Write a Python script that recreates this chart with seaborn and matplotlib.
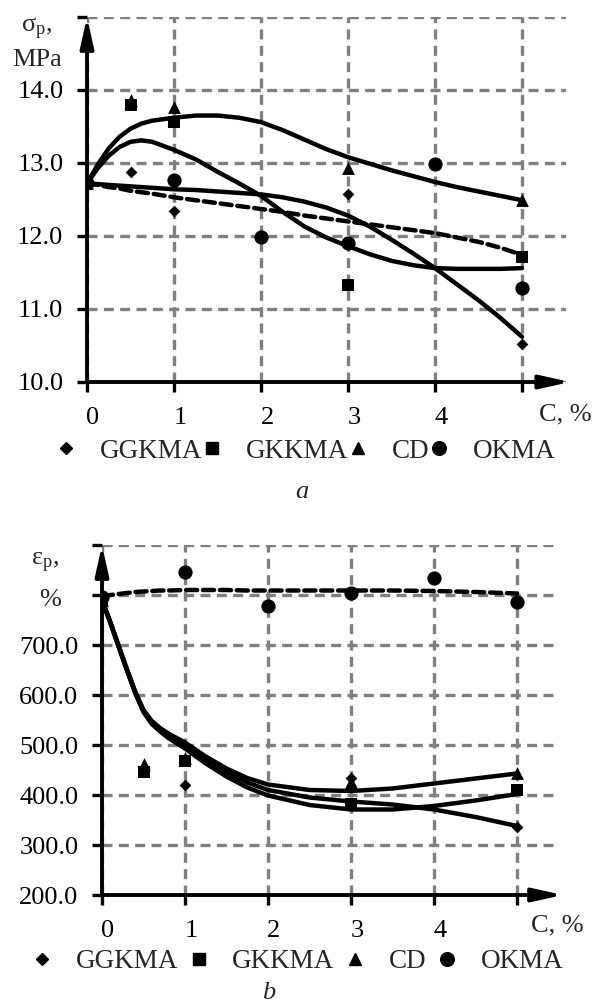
import numpy as np
import pandas as pd
import matplotlib
matplotlib.use("Agg")
import matplotlib.pyplot as plt
import matplotlib.transforms as mtransforms
from matplotlib.lines import Line2D
import seaborn as sns

sns.set_style("white")
plt.rcParams["font.family"] = ["Liberation Serif", "DejaVu Serif"]
plt.rcParams["mathtext.fontset"] = "custom"
plt.rcParams["mathtext.rm"] = "Liberation Serif"
plt.rcParams["mathtext.it"] = "Liberation Serif:italic"

series = ["GGKMA", "GKKMA", "CD", "OKMA"]
markers = {"GGKMA": "D", "GKKMA": "s", "CD": "^", "OKMA": "o"}
msize = {"GGKMA": 36, "GKKMA": 75, "CD": 85, "OKMA": 105}

# ---------- chart a: tensile strength sigma_p, MPa ----------
a_pts_x = {
    "GGKMA": [0, 0.5, 1, 3, 5],
    "GKKMA": [0, 0.5, 1, 3, 5],
    "CD":    [0, 0.5, 1, 3, 5],
    "OKMA":  [0, 1, 2, 3, 4, 5],
}
a_pts_y = {
    "GGKMA": [12.72, 12.87, 12.34, 12.57, 10.52],
    "GKKMA": [12.72, 13.80, 13.56, 11.33, 11.71],
    "CD":    [12.72, 13.86, 13.77, 12.93, 12.49],
    "OKMA":  [12.72, 12.77, 11.98, 11.90, 12.99, 11.29],
}
a_fit_x = [0, 0.125, 0.25, 0.375, 0.5, 0.625, 0.75, 1, 1.25, 1.5, 1.75, 2,
           2.25, 2.5, 2.75, 3, 3.25, 3.5, 3.75, 4, 4.25, 4.5, 4.75, 5]
a_fit_y = {
    "GGKMA": [12.72, 12.71, 12.70, 12.69, 12.68, 12.67, 12.66, 12.64, 12.63, 12.61, 12.59, 12.57,
              12.53, 12.47, 12.39, 12.28, 12.13, 11.95, 11.76, 11.56, 11.34, 11.12, 10.88, 10.62],
    "GKKMA": [12.72, 12.93, 13.10, 13.22, 13.29, 13.31, 13.29, 13.18, 13.05, 12.88, 12.72, 12.55,
              12.33, 12.13, 11.98, 11.86, 11.75, 11.66, 11.60, 11.56, 11.55, 11.55, 11.55, 11.56],
    "CD":    [12.72, 12.98, 13.20, 13.36, 13.47, 13.54, 13.58, 13.62, 13.65, 13.65, 13.62, 13.56,
              13.45, 13.32, 13.19, 13.08, 12.99, 12.90, 12.82, 12.74, 12.67, 12.61, 12.55, 12.49],
    "OKMA":  [12.72, 12.70, 12.67, 12.65, 12.62, 12.60, 12.58, 12.53, 12.49, 12.45, 12.41, 12.37,
              12.33, 12.28, 12.24, 12.20, 12.16, 12.12, 12.08, 12.04, 11.98, 11.92, 11.84, 11.74],
}
a_yticks = [10, 11, 12, 13, 14, 15]
a_yticklabels = ["10.0", "11.0", "12.0", "13.0", "14.0", ""]

# ---------- chart b: elongation eps_p, % ----------
b_pts_x = {
    "GGKMA": [0, 1, 3, 5],
    "GKKMA": [0, 0.5, 1, 3, 5],
    "CD":    [0, 0.5, 1, 3, 5],
    "OKMA":  [0, 1, 2, 3, 4, 5],
}
b_pts_y = {
    "GGKMA": [790, 420, 434, 337],
    "GKKMA": [790, 446, 468, 382, 410],
    "CD":    [790, 463, 474, 426, 444],
    "OKMA":  [797, 846, 778, 805, 834, 786],
}
b_fit_x = [0, 0.1, 0.2, 0.3, 0.4, 0.5, 0.6, 0.7, 0.8, 1, 1.25, 1.5, 1.75, 2, 2.5, 3, 3.5, 4, 4.5, 5]
b_fit_y = {
    "GGKMA": [790, 745, 697, 650, 605, 568, 545, 530, 518, 499, 472, 446, 425, 410, 395, 387, 381, 371, 356, 338],
    "GKKMA": [790, 745, 697, 650, 604, 566, 542, 527, 514, 493, 463, 437, 415, 399, 380, 371, 371, 378, 389, 402],
    "CD":    [790, 746, 699, 652, 607, 570, 548, 534, 523, 505, 477, 453, 434, 421, 410, 408, 413, 423, 433, 443],
    "OKMA":  [797, 800, 802, 804, 806, 807, 808, 809, 809, 810, 810, 810, 809, 809, 809, 809, 809, 808, 806, 803],
}
b_yticks = [200, 300, 400, 500, 600, 700, 800, 900]
b_yticklabels = ["200.0", "300.0", "400.0", "500.0", "600.0", "700.0", "", ""]

x_ticks = [0, 1, 2, 3, 4, 5]
x_ticklabels = ["0", "1", "2", "3", "4", ""]

FS = 19
W, H = 594, 1006
fig = plt.figure(figsize=(W / 100, H / 100), dpi=100)
ax1 = fig.add_axes([87 / W, (H - 382) / H, 478.5 / W, 365 / H])
ax2 = fig.add_axes([102 / W, (H - 895) / H, 456.5 / W, 350 / H])


def draw(ax, pts_x, pts_y, fit_x, fit_y):
    for s in series:
        df = pd.DataFrame({"x": fit_x, "y": fit_y[s]})
        sns.lineplot(data=df, x="x", y="y", ax=ax, color="black", linewidth=3.2,
                     sort=False, estimator=None,
                     linestyle=(0, (2.5, 1.3)) if s == "OKMA" else "-", zorder=3)
    for s in series:
        df = pd.DataFrame({"x": pts_x[s], "y": pts_y[s]})
        sns.scatterplot(data=df, x="x", y="y", ax=ax, color="black",
                        marker=markers[s], s=msize[s], linewidth=0, zorder=4)
    for ln in ax.lines:
        ln.set_linewidth(3.2)
        ln.set_solid_capstyle("round")
        ln.set_solid_joinstyle("round")
        ln.set_dash_capstyle("round")


def style(ax, ylim, yticks, yticklabels, ylab1, ylab2, yl_x1, yl_x2, yl_y1, yl_y2, c_y):
    ax.set_xlim(0, 5.5)
    ax.set_ylim(*ylim)
    ax.set_xticks(x_ticks)
    ax.set_xticklabels(x_ticklabels)
    ax.set_yticks(yticks)
    ax.set_yticklabels(yticklabels)
    ax.set_xlabel("")
    ax.set_ylabel("")
    for sp in ax.spines.values():
        sp.set_visible(False)
    ax.set_axisbelow(True)
    ax.grid(True, color="#808080", lw=2.4, linestyle=(0, (3.0, 1.9)))
    ax.tick_params(axis="both", direction="out", length=7, width=2.4,
                   color="black", labelsize=FS, labelcolor="black")
    ax.tick_params(axis="x", pad=11, bottom=True)
    ax.tick_params(axis="y", pad=10, left=True)
    off = mtransforms.ScaledTranslation(0.06, 0, fig.dpi_scale_trans)
    for lab in ax.get_xticklabels():
        lab.set_transform(lab.get_transform() + off)
    arrow = dict(arrowstyle="-|>,head_length=1.8,head_width=0.4", lw=2.8,
                 color="black", shrinkA=0, shrinkB=0, mutation_scale=10)
    ax.annotate("", xy=(0, 1.0), xytext=(0, 0), xycoords="axes fraction",
                arrowprops=arrow, annotation_clip=False, zorder=5)
    ax.annotate("", xy=(1.01, 0), xytext=(0, 0), xycoords="axes fraction",
                arrowprops=arrow, annotation_clip=False, zorder=5)
    ax.text(yl_x1, yl_y1, ylab1, transform=ax.transAxes, ha="right", va="center", fontsize=FS)
    ax.text(yl_x2, yl_y2, ylab2, transform=ax.transAxes, ha="right", va="center", fontsize=FS)
    ax.text(1.054, c_y, "C, %", transform=ax.transAxes, ha="right", va="center", fontsize=FS)


draw(ax1, a_pts_x, a_pts_y, a_fit_x, a_fit_y)
draw(ax2, b_pts_x, b_pts_y, b_fit_x, b_fit_y)
style(ax1, (10, 15), a_yticks, a_yticklabels, "σ$_\\mathregular{p}$,", "MPa",
      -0.072, -0.052, 0.968, 0.882, -0.09)
style(ax2, (200, 900), b_yticks, b_yticklabels, "ε$_\\mathregular{p}$,", "%",
      -0.094, -0.090, 0.949, 0.843, -0.086)

leg_sizes = {"GGKMA": 6.0, "GKKMA": 8.6, "CD": 9.2, "OKMA": 9.8}
handles = [Line2D([], [], color="black", marker=markers[s], markersize=leg_sizes[s],
                  linestyle="none") for s in series]
fig.legend(handles, series, loc="center", bbox_to_anchor=(308 / W, 1 - 451 / H),
           ncol=4, frameon=False, handlelength=0.4, handletextpad=1.05,
           columnspacing=0.15, fontsize=FS + 0.5, borderpad=0, borderaxespad=0)
fig.legend(handles, series, loc="center", bbox_to_anchor=(300 / W, 1 - 962 / H),
           ncol=4, frameon=False, handlelength=0.4, handletextpad=1.05,
           columnspacing=0.55, fontsize=FS + 0.5, borderpad=0, borderaxespad=0)

fig.text(302 / W, 1 - 492 / H, "a", style="italic", ha="center", va="center", fontsize=FS)
fig.text(269 / W, 1 - 993 / H, "b", style="italic", ha="center", va="center", fontsize=FS)

fig.savefig("out.png", dpi=100, facecolor="white")
